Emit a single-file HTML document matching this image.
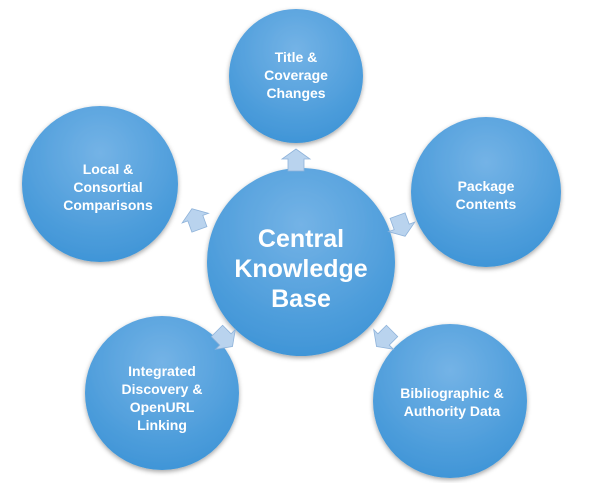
<!DOCTYPE html>
<html><head><style>
body{margin:0;background:#fff;}
svg{display:block}
text{font-family:"Liberation Sans",sans-serif;font-weight:bold;fill:#fff;text-anchor:middle}
</style></head><body>
<svg width="600" height="483" viewBox="0 0 600 483">
<defs>
<radialGradient id="g" cx="50%" cy="30%" r="75%">
<stop offset="0" stop-color="#74b3e6"/><stop offset="1" stop-color="#3c93d6"/>
</radialGradient>
<filter id="s" x="-20%" y="-20%" width="140%" height="140%"><feDropShadow dx="0" dy="2" stdDeviation="2.5" flood-color="#000" flood-opacity="0.35"/></filter>
<g id="ar"><polygon points="-8,10 -8,-2 -14,-2 0,-12 14,-2 8,-2 8,10" fill="#b9d3ee" stroke="#8fb3da" stroke-width="0.8"/></g>
</defs>
<g filter="url(#s)" fill="url(#g)">
<circle cx="296" cy="76" r="67"/>
<circle cx="486" cy="192" r="75"/>
<circle cx="100" cy="184" r="78"/>
<circle cx="162" cy="393" r="77"/>
<circle cx="450" cy="401" r="77"/>
<circle cx="301" cy="262" r="94"/>
</g>
<use href="#ar" transform="translate(296,161)"/>
<use href="#ar" transform="translate(196,220) rotate(-20)"/>
<use href="#ar" transform="translate(401,225) rotate(160)"/>
<use href="#ar" transform="translate(224,338) rotate(135)"/>
<use href="#ar" transform="translate(385,338) rotate(-135)"/>
<text font-size="25" x="301"><tspan x="301" y="247">Central</tspan><tspan x="301" y="277">Knowledge</tspan><tspan x="301" y="307">Base</tspan></text>
<text font-size="14"><tspan x="296" y="62">Title &amp;</tspan><tspan x="296" y="80">Coverage</tspan><tspan x="296" y="98">Changes</tspan></text>
<text font-size="14"><tspan x="486" y="191">Package</tspan><tspan x="486" y="209">Contents</tspan></text>
<text font-size="14"><tspan x="108" y="174">Local &amp;</tspan><tspan x="108" y="192">Consortial</tspan><tspan x="108" y="210">Comparisons</tspan></text>
<text font-size="14"><tspan x="162" y="376">Integrated</tspan><tspan x="162" y="394">Discovery &amp;</tspan><tspan x="162" y="412">OpenURL</tspan><tspan x="162" y="430">Linking</tspan></text>
<text font-size="14"><tspan x="452" y="398">Bibliographic &amp;</tspan><tspan x="452" y="416">Authority Data</tspan></text>
</svg>
</body></html>
